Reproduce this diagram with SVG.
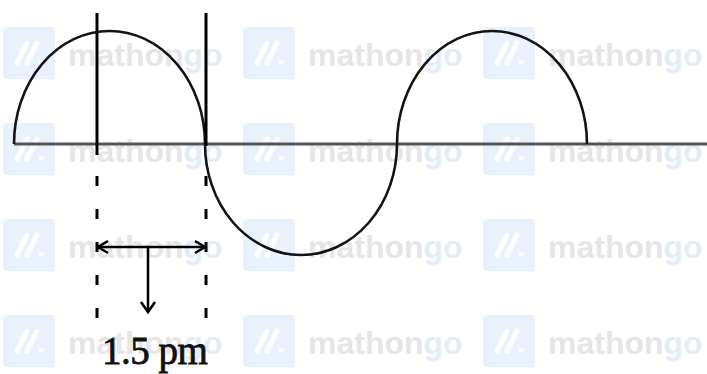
<svg xmlns="http://www.w3.org/2000/svg" width="707" height="374" viewBox="0 0 707 374">
<defs>
<style>
.wm-box{fill:#e8f1fc}
.wm-mark{stroke:#ffffff;stroke-width:5;stroke-linecap:round;fill:none}
.wm-t{font-family:"Liberation Sans",Arial,sans-serif;font-weight:bold;font-size:32px;fill:#e6e6e6}
.wm-go{fill:#e2edf9}
.curve{fill:none;stroke:#141414;stroke-width:2.6}
.axis{stroke:#555555;stroke-width:3}
.vline{stroke:#000000;stroke-width:3}
.dash{stroke:#000000;stroke-width:3;stroke-dasharray:10 23}
.arrow{fill:none;stroke:#000000;stroke-width:2.5}
.label{font-family:"Liberation Serif","Times New Roman",serif;font-size:39px;fill:#111111;stroke:#111111;stroke-width:0.8}
</style>
<g id="wm">
<rect class="wm-box" x="0" y="0" width="52" height="52" rx="4"/>
<path class="wm-mark" d="M14,36 L24,16 M24,36 L34,16"/>
<circle cx="38" cy="35" r="2.5" fill="#ffffff"/>
<text class="wm-t" x="65" y="39">mathon<tspan class="wm-go">go</tspan></text>
</g>
</defs>
<rect width="707" height="374" fill="#ffffff"/>
<g id="watermarks">
<use href="#wm" x="3" y="27"/>
<use href="#wm" x="243" y="27"/>
<use href="#wm" x="483" y="27"/>
<use href="#wm" x="3" y="123"/>
<use href="#wm" x="243" y="123"/>
<use href="#wm" x="483" y="123"/>
<use href="#wm" x="3" y="219"/>
<use href="#wm" x="243" y="219"/>
<use href="#wm" x="483" y="219"/>
<use href="#wm" x="3" y="315"/>
<use href="#wm" x="243" y="315"/>
<use href="#wm" x="483" y="315"/>
</g>
<g id="axis">
<line class="axis" x1="14" y1="144" x2="707" y2="144"/>
</g>
<g id="wave">
<path class="curve" d="M14,144 A95.5,113 0 0 1 205,144 A96,111 0 0 0 397,144 A95,113 0 0 1 587,144"/>
</g>
<g id="connectors">
<line class="vline" x1="97" y1="13" x2="97" y2="155"/>
<line class="vline" x1="206" y1="13" x2="206" y2="146"/>
<line class="dash" x1="97" y1="176" x2="97" y2="320"/>
<line class="dash" x1="206" y1="176" x2="206" y2="320"/>
<line class="arrow" x1="98" y1="247" x2="205" y2="247"/>
<path class="arrow" d="M108,241 L98,247 L108,253"/>
<path class="arrow" d="M195,241 L205,247 L195,253"/>
<line class="arrow" x1="148" y1="247" x2="148" y2="312"/>
<path class="arrow" d="M141,302 L148,312 L155,302"/>
</g>
<g id="label">
<text class="label" x="102" y="364" letter-spacing="-0.5">1.5 pm</text>
</g>
</svg>
